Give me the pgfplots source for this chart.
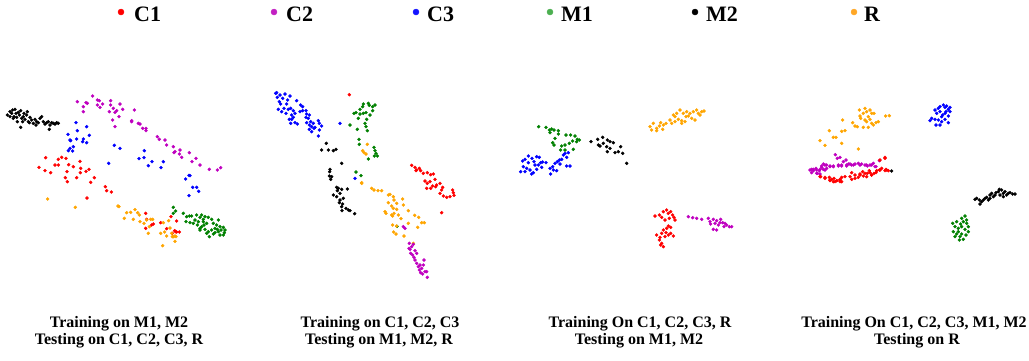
\documentclass[border=0pt]{standalone}
\usepackage{fontspec}
\setmainfont{Liberation Serif}
\usepackage{pgfplots}
\pgfplotsset{compat=1.18}

% class colours used in the embedding panels
\definecolor{cC1}{HTML}{FF0000}
\definecolor{cC2}{HTML}{BF00BF}
\definecolor{cC3}{HTML}{0000FF}
\definecolor{cM1}{HTML}{008000}
\definecolor{cM2}{HTML}{000000}
\definecolor{cR}{HTML}{FFA500}
% legend swatches
\definecolor{lC1}{HTML}{FF0000}
\definecolor{lC2}{HTML}{C21FC2}
\definecolor{lC3}{HTML}{1414FF}
\definecolor{lM1}{HTML}{4CAF50}
\definecolor{lM2}{HTML}{000000}
\definecolor{lR}{HTML}{FFA726}

\pgfplotsset{
  panel/.style={anchor=north west, scale only axis, hide axis, clip=false,
    y dir=reverse, xmin=0, ymin=0},
  pts/.style={only marks, mark=*, mark size=1.5pt, color=#1,
    mark options={draw=none, fill=#1}},
}

\begin{document}
\begin{tikzpicture}
\useasboundingbox (0,0) rectangle (1029pt,-360pt);

% ---------- panel 1: training on M1, M2 ----------
\begin{axis}[panel, at={(0pt,-80pt)}, width=260pt, height=200pt, xmax=780, ymax=600]
\addplot[pts=cM2] coordinates {(22,105)(30,95)(35,100)(38,90)(45,88)(48,100)(42,110)(50,112)(55,97)(58,105)(62,92)(65,115)(70,110)(72,100)(75,118)(80,105)(82,95)(85,125)(90,112)(95,120)(100,130)(105,118)(110,125)(108,135)(115,128)(120,115)(125,110)(130,125)(135,132)(140,128)(145,125)(150,135)(155,128)(160,130)(165,132)(170,128)(175,130)(148,148)(62,142)(40,115)(52,125)(30,110)(68,125)(88,128)};
\addplot[pts=cC2] coordinates {(232,65)(250,80)(258,68)(262,70)(278,48)(292,60)(298,62)(292,75)(300,82)(308,72)(332,62)(332,75)(328,95)(340,85)(345,97)(350,92)(360,72)(368,88)(357,110)(338,120)(345,140)(395,122)(403,90)(395,125)(415,130)(420,132)(428,145)(438,145)(438,152)(472,170)(478,178)(495,180)(500,195)(520,200)(525,215)(522,218)(540,210)(545,232)(538,222)(568,218)(576,245)(588,235)(600,255)(628,268)(652,270)(662,263)(250,95)};
\addplot[pts=cC3] coordinates {(228,128)(260,140)(268,166)(232,152)(204,163)(210,180)(230,177)(250,177)(248,185)(260,188)(210,205)(220,200)(218,213)(205,212)(343,196)(360,205)(326,250)(433,212)(432,233)(417,236)(456,245)(445,257)(490,245)(483,263)(567,286)(570,287)(557,297)(578,322)(590,322)(596,334)(567,347)(212,182)};
\addplot[pts=cC1] coordinates {(137,233)(117,262)(135,272)(152,278)(165,255)(175,238)(185,232)(175,255)(198,235)(206,254)(220,260)(240,244)(242,265)(241,278)(258,274)(267,268)(201,275)(196,293)(202,305)(230,293)(272,307)(283,293)(316,320)(320,332)(334,336)(261,354)(437,400)(440,418)(455,435)(460,432)(437,445)(482,428)(500,446)(513,410)(527,455)(538,456)(530,423)(524,452)(530,456)(517,460)};
\addplot[pts=cR] coordinates {(143,357)(226,382)(354,378)(357,380)(380,398)(392,397)(405,389)(413,398)(418,405)(373,415)(400,418)(420,425)(432,430)(440,420)(448,440)(452,418)(458,418)(445,460)(482,460)(490,428)(506,422)(500,468)(510,444)(515,460)(520,470)(517,470)(525,468)(528,470)(488,497)(525,484)(494,456)};
\addplot[pts=cM1] coordinates {(520,382)(527,393)(520,400)(550,400)(560,410)(568,408)(575,408)(590,405)(600,412)(605,405)(615,410)(625,412)(635,418)(655,420)(558,425)(570,428)(585,420)(595,425)(610,425)(620,430)(640,430)(650,435)(660,440)(670,442)(675,450)(600,445)(605,440)(615,448)(625,455)(635,450)(645,458)(655,455)(660,465)(670,465)(628,470)(640,462)(580,430)(592,435)(612,435)(645,445)(652,448)(663,450)(620,460)(600,450)(610,418)(673,458)};
\end{axis}

% ---------- panel 2: training on C1, C2, C3 ----------
\begin{axis}[panel, at={(260pt,-80pt)}, width=240pt, height=210pt, xmax=720, ymax=630]
\addplot[pts=cC3] coordinates {(50,38)(52,52)(60,45)(75,42)(90,48)(68,55)(58,65)(62,72)(80,72)(72,85)(55,88)(65,95)(78,100)(85,88)(92,85)(100,92)(105,100)(95,105)(88,118)(95,118)(92,130)(105,128)(112,132)(110,62)(122,75)(128,80)(128,92)(120,95)(138,92)(140,102)(148,105)(138,112)(145,115)(152,125)(140,128)(160,130)(155,140)(148,148)(162,145)(155,155)(175,122)(178,130)(185,138)(178,150)(175,168)(240,130)(285,295)(148,135)(165,142)(47,40)(83,60)(100,112)};
\addplot[pts=cC1] coordinates {(268,44)(455,256)(465,262)(470,270)(478,265)(482,272)(490,280)(502,278)(512,284)(520,282)(525,298)(495,303)(502,310)(510,305)(518,318)(530,315)(540,310)(548,322)(545,330)(540,340)(550,348)(560,352)(570,350)(578,330)(580,338)(582,346)(500,325)(512,325)(527,320)(468,272)(545,398)};
\addplot[pts=cM1] coordinates {(288,98)(300,88)(308,80)(310,72)(325,70)(328,76)(338,80)(345,75)(338,92)(300,102)(310,100)(318,98)(330,105)(320,118)(315,130)(318,140)(322,152)(295,115)(270,135)(292,148)(297,178)(298,193)(342,202)(345,212)(348,220)(343,228)(352,228)(325,237)(288,276)(303,287)(411,439)(282,100)};
\addplot[pts=cR] coordinates {(322,193)(308,212)(312,218)(318,222)(305,308)(335,325)(342,330)(354,332)(365,332)(385,345)(390,343)(400,350)(402,360)(385,368)(395,378)(410,370)(428,357)(410,388)(400,385)(375,395)(378,400)(395,405)(398,408)(402,400)(415,405)(430,375)(445,392)(423,416)(410,438)(398,435)(445,430)(464,406)(476,412)(485,428)(473,442)(493,428)(401,456)(408,462)(432,468)(305,310)(460,490)};
\addplot[pts=cM2] coordinates {(199,190)(185,210)(205,210)(220,212)(228,208)(245,250)(210,268)(209,275)(208,288)(212,298)(215,290)(230,322)(235,325)(245,328)(262,327)(220,345)(230,350)(240,340)(250,355)(238,368)(248,372)(245,380)(258,385)(265,390)(270,392)(246,392)(284,401)(232,332)(240,360)};
\addplot[pts=cC2] coordinates {(430,440)(435,445)(460,493)(448,490)(455,500)(450,508)(465,512)(452,520)(470,520)(458,525)(465,540)(470,550)(480,555)(475,560)(485,565)(490,555)(478,570)(495,575)(488,582)(500,575)(482,578)(502,592)(492,540)(462,532)(447,505)};
\end{axis}

% ---------- panel 3: training on C1, C2, C3, R ----------
\begin{axis}[panel, at={(500pt,-80pt)}, width=260pt, height=200pt, xmax=780, ymax=600]
\addplot[pts=cM1] coordinates {(116,140)(138,142)(148,150)(155,147)(162,150)(175,152)(150,158)(165,175)(158,188)(162,195)(198,165)(212,165)(225,168)(232,178)(238,180)(218,183)(208,190)(195,195)(185,198)(182,210)(195,210)(220,208)(230,185)(175,162)};
\addplot[pts=cC3] coordinates {(68,243)(75,238)(85,228)(96,235)(102,245)(110,230)(118,232)(122,248)(128,246)(138,248)(70,260)(80,265)(90,270)(100,278)(110,268)(125,262)(105,255)(62,275)(75,275)(95,282)(150,265)(158,260)(165,250)(172,245)(178,240)(185,238)(190,225)(195,220)(205,218)(200,232)(180,252)(200,258)(210,258)(160,270)(152,282)(170,272)(85,248)(115,255)};
\addplot[pts=cM2] coordinates {(273,185)(293,178)(308,172)(322,180)(330,185)(340,188)(295,195)(310,190)(320,200)(330,205)(322,215)(345,218)(355,215)(362,200)(368,220)(380,250)(300,198)};
\addplot[pts=cR] coordinates {(450,140)(455,150)(460,130)(470,145)(478,138)(482,128)(488,148)(490,135)(498,130)(510,120)(515,130)(520,105)(525,110)(530,100)(535,118)(540,90)(545,130)(550,100)(555,125)(560,95)(565,108)(570,100)(575,115)(580,95)(585,120)(590,90)(595,100)(600,105)(605,95)(612,93)(470,152)(545,122)(525,125)(558,110)};
\addplot[pts=cC1] coordinates {(465,408)(478,405)(490,395)(500,390)(505,400)(512,395)(518,405)(522,412)(525,420)(485,412)(495,420)(508,415)(505,438)(500,445)(512,442)(490,450)(485,460)(470,465)(480,472)(495,470)(505,465)(520,468)(478,480)(485,490)(490,500)(482,495)(498,458)(512,460)};
\addplot[pts=cC2] coordinates {(565,410)(578,413)(590,415)(605,418)(625,415)(630,425)(640,418)(645,430)(650,422)(655,435)(662,418)(668,428)(672,440)(680,435)(688,440)(695,440)(640,448)(650,450)(660,428)(632,432)(675,430)};
\end{axis}

% ---------- panel 4: training on C1, C2, C3, M1, M2 ----------
\begin{axis}[panel, at={(770pt,-80pt)}, width=259pt, height=200pt, xmax=777, ymax=600]
\addplot[pts=cR] coordinates {(268,90)(285,85)(290,95)(300,90)(312,100)(295,110)(280,100)(270,108)(285,120)(300,118)(290,125)(305,130)(318,128)(325,125)(310,135)(295,142)(280,142)(262,140)(255,138)(248,128)(218,120)(215,154)(225,152)(178,152)(190,172)(198,172)(150,182)(165,196)(215,190)(265,207)(347,108)(358,107)(272,115)(305,100)};
\addplot[pts=cC2] coordinates {(196,224)(202,235)(210,232)(220,245)(228,240)(235,252)(245,255)(255,252)(265,250)(275,252)(285,255)(292,258)(300,255)(310,250)(318,260)(328,242)(205,258)(190,260)(180,258)(170,255)(160,252)(155,262)(150,268)(140,270)(130,268)(120,270)(125,278)(140,280)(150,282)(165,270)(215,255)(230,258)
  (125,268)(130,272)(138,265)(142,280)(148,272)(155,258)(160,268)(165,255)(170,265)(180,260)(190,258)(205,255)(215,258)(230,255)(240,252)(250,255)(270,255)(290,255)(305,255)(315,260)};
\addplot[pts=cC1] coordinates {(152,290)(165,292)(178,292)(185,298)(192,295)(200,302)(210,300)(215,292)(225,290)(245,278)(255,285)(265,292)(270,285)(278,275)(285,280)(290,290)(298,272)(305,285)(312,280)(320,272)(328,270)(335,265)(345,235)(348,268)(355,272)(210,305)(180,302)(195,305)(300,278)(245,298)
  (150,290)(165,295)(180,300)(190,305)(200,302)(210,298)(215,305)(240,290)(255,295)(270,282)(280,288)(292,280)(305,285)(318,278)(330,270)(345,272)(350,270)(330,240)(345,232)};
\addplot[pts=cM2] coordinates {(365,273)(615,358)(620,355)(628,360)(635,365)(640,360)(645,355)(650,352)(655,360)(660,345)(665,340)(670,350)(678,338)(685,335)(690,345)(695,330)(700,340)(705,335)(710,345)(715,340)(720,338)(728,342)(735,342)(630,372)(660,355)(688,328)(675,345)(700,350)};
\addplot[pts=cC3] coordinates {(495,90)(505,85)(510,80)(520,75)(525,82)(530,78)(535,88)(540,95)(500,100)(510,95)(518,105)(525,100)(535,108)(485,115)(495,118)(505,120)(515,125)(525,118)(535,128)(498,135)(510,135)(480,122)(515,110)(528,95)(540,82)};
\addplot[pts=cM1] coordinates {(585,408)(575,415)(580,425)(590,430)(595,440)(548,430)(560,425)(555,440)(565,445)(575,440)(585,448)(595,455)(550,455)(560,462)(570,470)(580,478)(568,480)(575,462)(588,465)(555,470)(565,455)(590,420)(572,432)};
\end{axis}

% ---------- legend and panel captions ----------
\begin{axis}[panel, at={(0pt,0pt)}, width=1029pt, height=360pt, xmax=1029, ymax=360]
\addplot[only marks, mark=*, mark size=3pt, color=lC1, mark options={draw=none}] coordinates {(121,12)};
\addplot[only marks, mark=*, mark size=3pt, color=lC2, mark options={draw=none}] coordinates {(274,12)};
\addplot[only marks, mark=*, mark size=3pt, color=lC3, mark options={draw=none}] coordinates {(416,12)};
\addplot[only marks, mark=*, mark size=3pt, color=lM1, mark options={draw=none}] coordinates {(550,12)};
\addplot[only marks, mark=*, mark size=3pt, color=lM2, mark options={draw=none}] coordinates {(695,12)};
\addplot[only marks, mark=*, mark size=3pt, color=lR, mark options={draw=none}] coordinates {(854,12)};
\begin{scope}[every node/.style={anchor=base west, inner sep=0pt, font=\fontsize{22}{24}\selectfont\bfseries}]
\node at (axis cs:134,21) {C1};
\node at (axis cs:286,21) {C2};
\node at (axis cs:427,21) {C3};
\node at (axis cs:561,21) {M1};
\node at (axis cs:706,21) {M2};
\node at (axis cs:864,21) {R};
\end{scope}
\begin{scope}[every node/.style={anchor=base, inner sep=0pt, font=\fontsize{16}{17}\selectfont\bfseries}]
\node at (axis cs:119,327.5) {Training on M1, M2};
\node at (axis cs:119,344) {Testing on C1, C2, C3, R};
\node at (axis cs:380,327.5) {Training on C1, C2, C3};
\node at (axis cs:379,344) {Testing on M1, M2, R};
\node at (axis cs:640,327.5) {Training On C1, C2, C3, R};
\node at (axis cs:639,344) {Testing on M1, M2};
\node at (axis cs:914,327.5) {Training On C1, C2, C3, M1, M2};
\node at (axis cs:917,344) {Testing on R};
\end{scope}
\end{axis}
\end{tikzpicture}
\end{document}
